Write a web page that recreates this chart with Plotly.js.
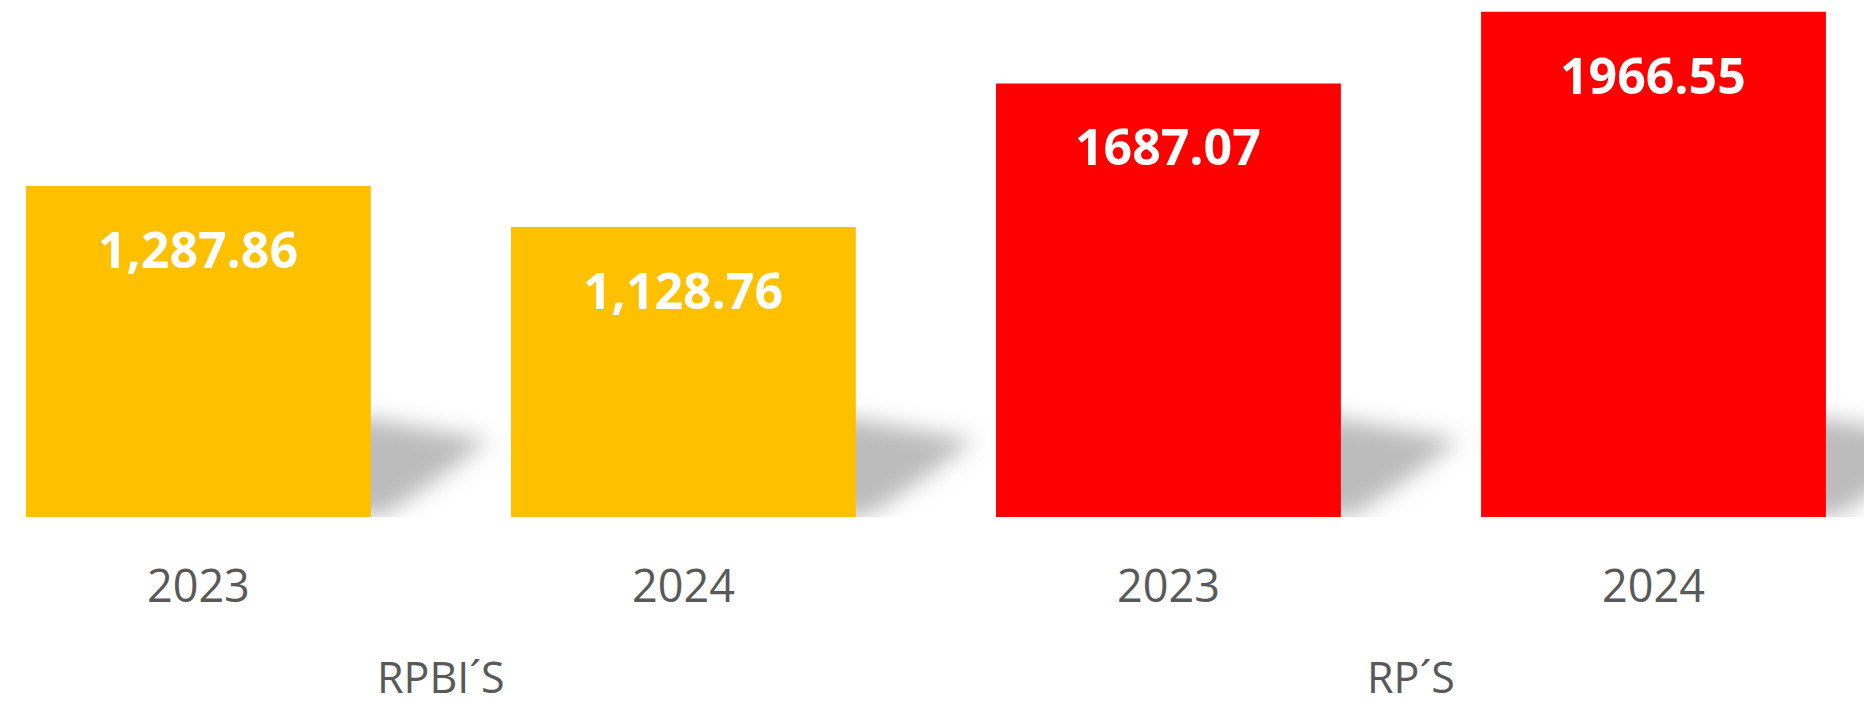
<!DOCTYPE html>
<html>
<head>
<meta charset="utf-8">
<script src="https://cdn.plot.ly/plotly-3.0.1.min.js"></script>
<style>
  html, body { margin: 0; padding: 0; background: #fff; }
  #chart { width: 1864px; height: 707px; }
</style>
</head>
<body>
<div id="chart"></div>
<script>
const groups = ['RPBI´S', 'RPBI´S', 'RP´S', 'RP´S'];
const years = ['2023', '2024', '2023', '2024'];
const values = [1287.86, 1128.76, 1687.07, 1966.55];
const valueLabels = ['1,287.86', '1,128.76', '1687.07', '1966.55'];
const barColors = ['#FFC000', '#FFC000', '#FF0000', '#FF0000'];

const FONT = '"Open Sans", "Noto Sans", sans-serif';
const idx = values.map((_, i) => i);

// one label per group, centred under its bars
const groupNames = [...new Set(groups)];
const groupAnnotations = groupNames.map(g => {
    const pos = idx.filter(i => groups[i] === g);
    return {
        x: pos.reduce((a, b) => a + b, 0) / pos.length,
        y: -0.367, xref: 'x', yref: 'paper',
        text: g, showarrow: false, yanchor: 'bottom', borderpad: 0,
        font: { family: FONT, size: 43, color: '#595959' }
    };
});

const valueAnnotations = idx.map(i => ({
    x: i, y: values[i], xref: 'x', yref: 'y',
    text: '<b>' + valueLabels[i] + '</b>', showarrow: false,
    yanchor: 'middle', yshift: -63,
    font: { family: FONT, size: 50, color: '#ffffff' }
}));

// soft cast shadow to the right of each bar
const shadowShapes = idx.map(i => ({
    type: 'path', layer: 'below', xref: 'x', yref: 'y',
    path: `M ${i + 0.3},400 L ${i + 0.45},350 L ${i + 0.6},300 L ${i + 0.48},130 L ${i + 0.38},5 L ${i + 0.3},5 Z`,
    fillcolor: '#bcbcbc', line: { width: 0 }
}));

const traces = [{
    x: idx,
    y: values,
    type: 'bar',
    marker: { color: barColors, line: { width: 0 } },
    hoverinfo: 'skip'
}];

const layout = {
    width: 1864, height: 707,
    margin: { t: 0, r: 0, b: 190, l: 0 },
    paper_bgcolor: '#ffffff', plot_bgcolor: 'rgba(0,0,0,0)',
    showlegend: false,
    bargap: 0.289,
    xaxis: {
        range: [-0.409, 3.434],
        tickvals: idx, ticktext: years,
        ticks: '', showline: false, showgrid: false, zeroline: false,
        ticklabelstandoff: 39,
        tickfont: { family: FONT, size: 45, color: '#595959' }
    },
    yaxis: {
        range: [0, 2012], visible: false, showgrid: false, zeroline: false
    },
    annotations: [...valueAnnotations, ...groupAnnotations],
    shapes: shadowShapes
};

Plotly.newPlot('chart', traces, layout, { displayModeBar: false, staticPlot: true }).then(gd => {
    const svg = gd.querySelector('svg.main-svg');
    const ns = 'http://www.w3.org/2000/svg';
    let defs = svg.querySelector('defs');
    if (!defs) { defs = document.createElementNS(ns, 'defs'); svg.insertBefore(defs, svg.firstChild); }
    const filter = document.createElementNS(ns, 'filter');
    filter.setAttribute('id', 'shadow-blur');
    filter.setAttribute('x', '-50%'); filter.setAttribute('y', '-50%');
    filter.setAttribute('width', '200%'); filter.setAttribute('height', '200%');
    const blur = document.createElementNS(ns, 'feGaussianBlur');
    blur.setAttribute('stdDeviation', '11');
    filter.appendChild(blur);
    defs.appendChild(filter);
    gd.querySelectorAll('.shapelayer path').forEach(p => {
        p.setAttribute('filter', 'url(#shadow-blur)');
        p.style.filter = 'url(#shadow-blur)';
    });
});
</script>
</body>
</html>
